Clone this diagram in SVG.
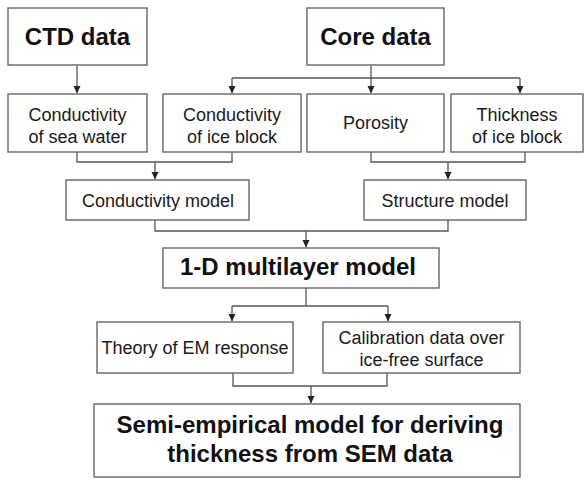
<svg xmlns="http://www.w3.org/2000/svg" width="585" height="479" viewBox="0 0 585 479">
<defs>
<marker id="arr" markerUnits="userSpaceOnUse" markerWidth="8" markerHeight="8" viewBox="0 0 8 8" refX="7" refY="4" orient="auto">
<path d="M0,0.5 L7.5,4 L0,7.5 Z" fill="#222"/>
</marker>
<style>
.box{fill:#fff;stroke:#666;stroke-width:1.4}
.t{font-family:"Liberation Sans",Arial,sans-serif;font-size:18px;fill:#1a1a1a;text-anchor:middle}
.b{font-family:"Liberation Sans",Arial,sans-serif;font-size:24px;font-weight:bold;fill:#111;text-anchor:middle}
.c{fill:none;stroke:#555;stroke-width:1.3}
</style>
</defs>
<rect width="585" height="479" fill="#fff"/>
<g id="connectors">
<path class="c" d="M77,65 V93" marker-end="url(#arr)"/>
<path class="c" d="M371,65 V93" marker-end="url(#arr)"/>
<path class="c" d="M232,78 H520"/>
<path class="c" d="M232,78 V93" marker-end="url(#arr)"/>
<path class="c" d="M520,78 V93" marker-end="url(#arr)"/>
<path class="c" d="M77,152 V162 H232 V152"/>
<path class="c" d="M155,162 V179" marker-end="url(#arr)"/>
<path class="c" d="M371,152 V162 H525 V152"/>
<path class="c" d="M448,162 V179" marker-end="url(#arr)"/>
<path class="c" d="M155,220 V231 H448 V220"/>
<path class="c" d="M306,231 V247" marker-end="url(#arr)"/>
<path class="c" d="M306,288 V306"/>
<path class="c" d="M232,306 H388"/>
<path class="c" d="M232,306 V321" marker-end="url(#arr)"/>
<path class="c" d="M388,306 V321" marker-end="url(#arr)"/>
<path class="c" d="M233,373 V386 H387 V373"/>
<path class="c" d="M311,386 V403" marker-end="url(#arr)"/>
</g>
<g id="ctd"><rect class="box" x="8" y="8" width="139" height="57"/><text class="b" x="77.5" y="45">CTD data</text></g>
<g id="core"><rect class="box" x="307" y="8" width="137" height="57"/><text class="b" x="375.5" y="45">Core data</text></g>
<g id="cond-sea"><rect class="box" x="8" y="94" width="139" height="58"/><text class="t" x="77.5" y="121">Conductivity</text><text class="t" x="77.5" y="143">of sea water</text></g>
<g id="cond-ice"><rect class="box" x="163" y="94" width="138" height="58"/><text class="t" x="232" y="121">Conductivity</text><text class="t" x="232" y="143">of ice block</text></g>
<g id="porosity"><rect class="box" x="307" y="94" width="137" height="58"/><text class="t" x="375.5" y="129">Porosity</text></g>
<g id="thickness"><rect class="box" x="451" y="94" width="132" height="58"/><text class="t" x="517" y="121">Thickness</text><text class="t" x="517" y="143">of ice block</text></g>
<g id="cond-model"><rect class="box" x="66" y="180" width="183" height="40"/><text class="t" x="158" y="207">Conductivity model</text></g>
<g id="struct-model"><rect class="box" x="364" y="180" width="162" height="40"/><text class="t" x="445" y="207">Structure model</text></g>
<g id="multilayer"><rect class="box" x="163" y="248" width="276" height="40"/><text class="b" x="298" y="275">1-D multilayer model</text></g>
<g id="theory"><rect class="box" x="97" y="322" width="196" height="51"/><text class="t" x="195" y="354">Theory of EM response</text></g>
<g id="calibration"><rect class="box" x="323" y="322" width="197" height="51"/><text class="t" x="421.5" y="344">Calibration data over</text><text class="t" x="421.5" y="366">ice-free surface</text></g>
<g id="semi"><rect class="box" x="94" y="404" width="426" height="73"/><text class="b" x="310" y="433">Semi-empirical model for deriving</text><text class="b" x="310" y="462">thickness from SEM data</text></g>
</svg>
